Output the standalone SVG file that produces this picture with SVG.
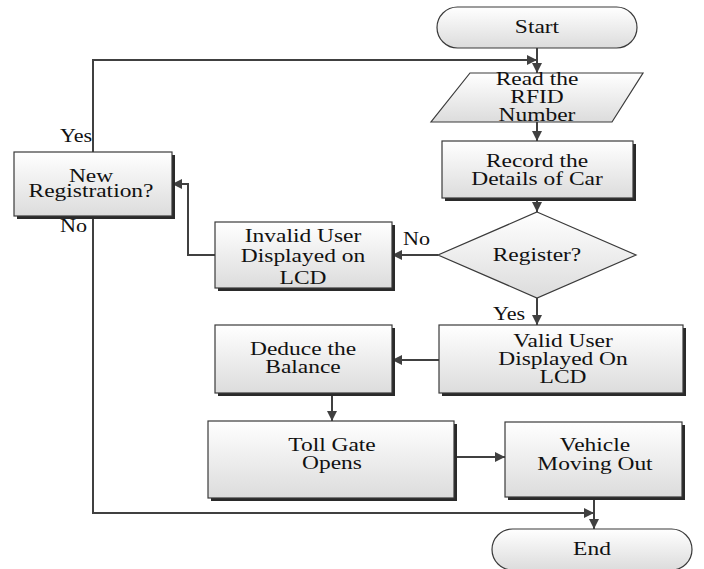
<svg xmlns="http://www.w3.org/2000/svg" width="704" height="569" viewBox="0 0 704 569">
<style>
.box{fill:url(#g);stroke:#3a3a3a;stroke-width:1.2}
.sh{fill:#2a2a2a}
text{font-family:'Liberation Serif','Times New Roman',serif;font-size:17px;fill:#111}
.t{text-anchor:middle}
.c{fill:none;stroke:#404040;stroke-width:2}
</style>
<defs>
<linearGradient id="g" x1="0" y1="0" x2="0" y2="1">
<stop offset="0" stop-color="#ffffff"/>
<stop offset="1" stop-color="#dcdcdc"/>
</linearGradient>
<marker id="a" viewBox="0 0 10 10" refX="10" refY="5" markerWidth="12" markerHeight="10" markerUnits="userSpaceOnUse" orient="auto">
<path d="M0,0 L10,5 L0,10 z" fill="#404040"/>
</marker>
</defs>
<rect width="704" height="569" fill="#fff"/>
<g id="connectors">
<path class="c" d="M537,48 V73" marker-end="url(#a)"/>
<path class="c" d="M93,152 V60 H537" marker-end="url(#a)"/>
<path class="c" d="M537,122 V141" marker-end="url(#a)"/>
<path class="c" d="M537,198 V212" marker-end="url(#a)"/>
<path class="c" d="M438,255 H392" marker-end="url(#a)"/>
<path class="c" d="M215,255 H188 V184 H172" marker-end="url(#a)"/>
<path class="c" d="M537,298 V325" marker-end="url(#a)"/>
<path class="c" d="M439,360 H392" marker-end="url(#a)"/>
<path class="c" d="M332,394 V421" marker-end="url(#a)"/>
<path class="c" d="M454,457 H505" marker-end="url(#a)"/>
<path class="c" d="M594,498 V529" marker-end="url(#a)"/>
<path class="c" d="M93,216 V513 H594" marker-end="url(#a)"/>
</g>
<g id="labels">
<text transform="translate(60,142) scale(1.3,1.05)">Yes</text>
<text transform="translate(60,232) scale(1.3,1.05)">No</text>
<text transform="translate(403,245) scale(1.3,1.05)">No</text>
<text transform="translate(493,320) scale(1.3,1.05)">Yes</text>
</g>
<g id="start">
<rect class="box" x="437" y="7" width="200" height="41" rx="20.5" ry="20.5"/>
<text class="t" transform="translate(537,33) scale(1.38,1.05)">Start</text>
</g>
<g id="read">
<polygon class="box" points="470,73 643,73 612,122 431,122"/>
<text class="t" transform="translate(537,85) scale(1.38,1.05)">Read the</text>
<text class="t" transform="translate(537,103) scale(1.38,1.05)">RFID</text>
<text class="t" transform="translate(537,121) scale(1.38,1.05)">Number</text>
</g>
<g id="record">
<rect class="sh" x="445" y="144" width="191" height="57"/>
<rect class="box" x="442" y="141" width="191" height="57"/>
<text class="t" transform="translate(537,167) scale(1.38,1.05)">Record the</text>
<text class="t" transform="translate(537,185) scale(1.38,1.05)">Details of Car</text>
</g>
<g id="register">
<polygon class="box" points="537,212 636,255 537,298 438,255"/>
<text class="t" transform="translate(537,261) scale(1.38,1.05)">Register?</text>
</g>
<g id="newreg">
<rect class="sh" x="17" y="155" width="158" height="64"/>
<rect class="box" x="14" y="152" width="158" height="64"/>
<text class="t" transform="translate(91,182) scale(1.38,1.05)">New</text>
<text class="t" transform="translate(91,197) scale(1.38,1.05)">Registration?</text>
</g>
<g id="invalid">
<rect class="sh" x="218" y="225" width="177" height="66"/>
<rect class="box" x="215" y="222" width="177" height="66"/>
<text class="t" transform="translate(303,242) scale(1.38,1.05)">Invalid User</text>
<text class="t" transform="translate(303,262) scale(1.38,1.05)">Displayed on</text>
<text class="t" transform="translate(303,284) scale(1.38,1.05)">LCD</text>
</g>
<g id="valid">
<rect class="sh" x="442" y="328" width="244" height="68"/>
<rect class="box" x="439" y="325" width="244" height="68"/>
<text class="t" transform="translate(563,347) scale(1.38,1.05)">Valid User</text>
<text class="t" transform="translate(563,365) scale(1.38,1.05)">Displayed On</text>
<text class="t" transform="translate(563,383) scale(1.38,1.05)">LCD</text>
</g>
<g id="deduce">
<rect class="sh" x="218" y="328" width="177" height="68"/>
<rect class="box" x="215" y="325" width="177" height="68"/>
<text class="t" transform="translate(303,355) scale(1.38,1.05)">Deduce the</text>
<text class="t" transform="translate(303,373) scale(1.38,1.05)">Balance</text>
</g>
<g id="toll">
<rect class="sh" x="211" y="424" width="246" height="77"/>
<rect class="box" x="208" y="421" width="246" height="77"/>
<text class="t" transform="translate(332,451) scale(1.38,1.05)">Toll Gate</text>
<text class="t" transform="translate(332,469) scale(1.38,1.05)">Opens</text>
</g>
<g id="vehicle">
<rect class="sh" x="508" y="425" width="177" height="75"/>
<rect class="box" x="505" y="422" width="177" height="75"/>
<text class="t" transform="translate(595,451) scale(1.38,1.05)">Vehicle</text>
<text class="t" transform="translate(595,470) scale(1.38,1.05)">Moving Out</text>
</g>
<g id="end">
<rect class="box" x="492" y="529" width="200" height="41" rx="20.5" ry="20.5"/>
<text class="t" transform="translate(592,555) scale(1.38,1.05)">End</text>
</g>
</svg>
